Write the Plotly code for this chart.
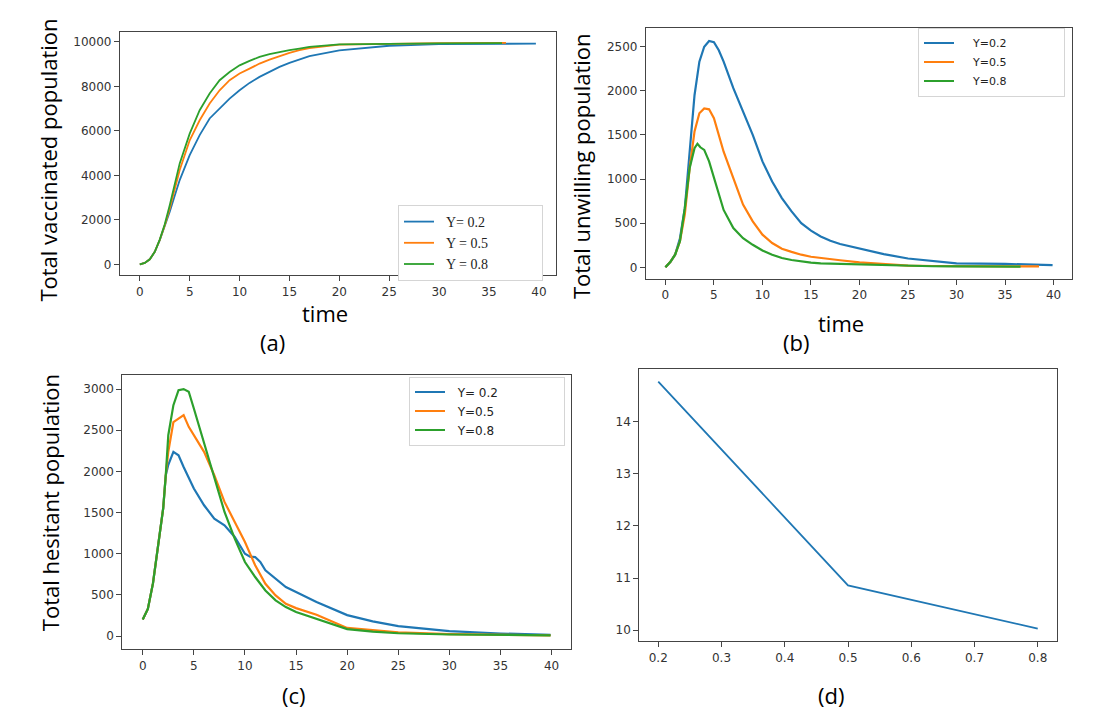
import plotly.graph_objects as go

# ---- dados ----
# (a) populacao vacinada total
t_vac_02 = [0, 0.5, 1, 1.5, 2, 2.5, 3, 3.5, 4, 5, 6, 7, 8, 9, 10, 11, 12, 13, 14, 15, 16, 17, 20, 25, 30, 35, 39.7]
vac_02 = [0, 60, 225, 560, 1090, 1700, 2365, 3080, 3790, 4910, 5810, 6560, 7000, 7455, 7830, 8160, 8430, 8650,
          8880, 9060, 9210, 9360, 9620, 9830, 9900, 9920, 9930]
t_vac_05 = [0, 0.5, 1, 1.5, 2, 2.5, 3, 3.5, 4, 5, 6, 7, 8, 9, 10, 11, 12, 13, 14, 15, 16, 17, 20, 25, 30, 35, 36.7]
vac_05 = [0, 60, 225, 560, 1100, 1750, 2515, 3400, 4240, 5580, 6480, 7230, 7830, 8280, 8580, 8800, 9030, 9210,
          9370, 9510, 9630, 9730, 9880, 9930, 9950, 9960, 9960]
t_vac_08 = [0, 0.5, 1, 1.5, 2, 2.5, 3, 3.5, 4, 5, 6, 7, 8, 9, 10, 11, 12, 13, 14, 15, 16, 17, 20, 25, 30, 36.3]
vac_08 = [0, 60, 225, 560, 1110, 1800, 2660, 3600, 4540, 5880, 6930, 7680, 8280, 8650, 8950, 9150, 9330, 9450,
          9550, 9630, 9700, 9780, 9890, 9930, 9940, 9950]

# (b) populacao relutante total
t_unw_02 = [0, 0.5, 1, 1.5, 2, 2.5, 3, 3.5, 4, 4.5, 5, 5.5, 6, 7, 8, 9, 10, 11, 12, 13, 14, 15, 16, 17, 18,
            20, 22.5, 25, 27.5, 30, 35, 39.9]
unw_02 = [0, 60, 143, 330, 670, 1275, 1950, 2330, 2500, 2565, 2550, 2460, 2330, 2030, 1765, 1500, 1200, 973,
          785, 633, 500, 415, 350, 300, 264, 215, 150, 100, 70, 45, 38, 25]
t_unw_05 = [0, 0.5, 1, 1.5, 2, 2.5, 3, 3.5, 4, 4.5, 5, 5.5, 6, 7, 8, 9, 10, 11, 12, 13, 14, 15, 16, 17, 18,
            20, 22.5, 25, 27.5, 30, 35, 38.5]
unw_05 = [0, 60, 143, 295, 600, 1125, 1540, 1745, 1800, 1790, 1690, 1500, 1310, 1010, 710, 520, 370, 275,
          210, 175, 143, 120, 105, 90, 80, 55, 35, 20, 15, 12, 10, 10]
t_unw_08 = [0, 0.5, 1, 1.5, 2, 2.5, 3, 3.3, 3.6, 4, 4.5, 5, 5.5, 6, 7, 8, 9, 10, 11, 12, 13, 14, 15, 16, 18,
            20, 22.5, 25, 27.5, 30, 35, 36.6]
unw_08 = [0, 60, 143, 295, 670, 1125, 1350, 1400, 1360, 1330, 1200, 1010, 820, 650, 445, 330, 255, 190, 143,
          105, 83, 64, 53, 45, 38, 30, 22, 15, 12, 10, 8, 8]

# (c) populacao hesitante total
t_hes_02 = [0, 0.5, 1, 1.5, 2, 2.25, 2.5, 3, 3.5, 4, 4.5, 5, 6, 7, 8, 9, 10, 10.5, 11, 11.5, 12, 13, 14, 15,
            16, 17, 20, 22.5, 25, 30, 35, 39.9]
hes_02 = [203, 330, 640, 1120, 1550, 1950, 2080, 2238, 2197, 2055, 1913, 1792, 1589, 1427, 1346, 1204, 1000,
          965, 960, 900, 800, 697, 596, 535, 474, 414, 255, 180, 121, 60, 32, 16]
t_hes_05 = [0, 0.5, 1, 1.5, 2, 2.25, 2.5, 3, 3.5, 4, 4.5, 5, 6, 7, 8, 9, 10, 11, 12, 13, 14, 15, 16, 17,
            20, 22.5, 25, 30, 35, 39.9]
hes_05 = [203, 330, 640, 1120, 1550, 1950, 2240, 2600, 2643, 2684, 2542, 2440, 2238, 1954, 1630, 1386, 1143,
          860, 636, 495, 393, 340, 300, 260, 100, 70, 45, 25, 15, 10]
t_hes_08 = [0, 0.5, 1, 1.5, 2, 2.25, 2.5, 3, 3.5, 4, 4.5, 5, 6, 7, 8, 9, 10, 11, 12, 13, 14, 15, 16, 17,
            20, 22.5, 25, 30, 35, 39.9]
hes_08 = [203, 330, 640, 1120, 1550, 1950, 2440, 2805, 2988, 3000, 2968, 2765, 2340, 1913, 1508, 1184, 900,
          718, 555, 434, 353, 292, 251, 211, 85, 55, 35, 20, 12, 10]

# (d)
gamma_vals = [0.2, 0.5, 0.8]
d_vals = [14.77, 10.86, 10.03]

# textos das legendas
leg_a = ["Υ= 0.2", "Υ = 0.5", "Υ = 0.8"]
leg_b = ["Υ=0.2", "Υ=0.5", "Υ=0.8"]
leg_c = ["Υ= 0.2", "Υ=0.5", "Υ=0.8"]

azul = "#1f77b4"
laranja = "#ff7f0e"
verde = "#2ca02c"
cores = [azul, laranja, verde]

# a pagina tem margem de 8px no body, entao a figura fica deslocada
OFF = 8
W, H = 1108, 719


def px(x):
    return (x - OFF) / W


def py(y):
    return 1 - (y - OFF) / H


def nome(txt, antes, depois):
    # espacos fixos para imitar o espacamento da legenda original
    return "\u00a0" * antes + txt + "\u00a0" * depois


fig = go.Figure()

# painel (a)
for t, v, txt, cor in zip([t_vac_02, t_vac_05, t_vac_08], [vac_02, vac_05, vac_08], leg_a, cores):
    fig.add_trace(go.Scatter(x=t, y=v, mode="lines", name=nome(txt, 2, 14),
                             line=dict(color=cor, width=1.8), xaxis="x", yaxis="y", legend="legend"))

# painel (b)
for t, v, txt, cor in zip([t_unw_02, t_unw_05, t_unw_08], [unw_02, unw_05, unw_08], leg_b, cores):
    fig.add_trace(go.Scatter(x=t, y=v, mode="lines", name=nome(txt, 4, 15),
                             line=dict(color=cor, width=2.2), xaxis="x2", yaxis="y2", legend="legend2"))

# painel (c)
for t, v, txt, cor in zip([t_hes_02, t_hes_05, t_hes_08], [hes_02, hes_05, hes_08], leg_c, cores):
    fig.add_trace(go.Scatter(x=t, y=v, mode="lines", name=nome(txt, 2, 16),
                             line=dict(color=cor, width=2.2), xaxis="x3", yaxis="y3", legend="legend3"))

# painel (d)
fig.add_trace(go.Scatter(x=gamma_vals, y=d_vals, mode="lines", showlegend=False,
                         line=dict(color=azul, width=1.8), xaxis="x4", yaxis="y4"))

eixo = dict(showline=True, mirror=True, linecolor="#444444", linewidth=1.2, ticks="outside",
            ticklen=5, tickcolor="#444444", showgrid=False, zeroline=False, tickformat="d",
            tickfont=dict(family="DejaVu Sans", size=12, color="#333333"))

fig.update_layout(
    width=W, height=H,
    margin=dict(l=0, r=0, t=0, b=0),
    paper_bgcolor="white", plot_bgcolor="white",
    xaxis=dict(eixo, domain=[px(120), px(555.7)], range=[-1.985, 41.685], tickvals=list(range(0, 41, 5)), anchor="y"),
    yaxis=dict(eixo, domain=[py(275), py(31.7)], range=[-481, 10463], tickvals=list(range(0, 10001, 2000)), anchor="x"),
    xaxis2=dict(eixo, domain=[px(646), px(1072)], range=[-2.0, 41.9], tickvals=list(range(0, 41, 5)), anchor="y2"),
    yaxis2=dict(eixo, domain=[py(278.7), py(27.7)], range=[-129, 2715], tickvals=list(range(0, 2501, 500)), anchor="x2"),
    xaxis3=dict(eixo, domain=[px(122.3), px(571)], range=[-2.0, 41.9], tickvals=list(range(0, 41, 5)), anchor="y3"),
    yaxis3=dict(eixo, domain=[py(649.3), py(374.7)], range=[-160, 3175], tickvals=list(range(0, 3001, 500)), anchor="x3"),
    xaxis4=dict(eixo, domain=[px(639.3), px(1056.7)], range=[0.17, 0.83], tickformat=".1f",
                tickvals=[0.2, 0.3, 0.4, 0.5, 0.6, 0.7, 0.8], anchor="y4"),
    yaxis4=dict(eixo, domain=[py(641), py(369.3)], range=[9.793, 15.007], tickvals=[10, 11, 12, 13, 14], anchor="x4"),
    legend=dict(x=px(398), y=py(243), xanchor="left", yanchor="middle", bgcolor="white",
                bordercolor="#d5d5d5", borderwidth=1,
                font=dict(family="Liberation Serif", size=14, color="#222222")),
    legend2=dict(x=px(918), y=py(62), xanchor="left", yanchor="middle", bgcolor="white",
                 bordercolor="#d5d5d5", borderwidth=1,
                 font=dict(family="DejaVu Sans", size=11, color="#222222")),
    legend3=dict(x=px(409), y=py(411), xanchor="left", yanchor="middle", bgcolor="white",
                 bordercolor="#d5d5d5", borderwidth=1,
                 font=dict(family="DejaVu Sans", size=12, color="#222222")),
)

fonte_titulo = dict(family="Open Sans", size=22, color="black")
textos = [
    ("Total vaccinated population", 47.6, 160, -90),
    ("Total unwilling population", 580.6, 166.5, -90),
    ("Total hesitant population", 49.7, 502.5, -90),
    ("time", 325, 313, 0),
    ("(a)", 272, 342, 0),
    ("time", 840.5, 323, 0),
    ("(b)", 796, 342, 0),
    ("(c)", 293.7, 695, 0),
    ("(d)", 831, 695, 0),
]
for txt, x, y, ang in textos:
    fig.add_annotation(text=txt, x=px(x), y=py(y), xref="paper", yref="paper", showarrow=False,
                       textangle=ang, xanchor="center", yanchor="middle", font=fonte_titulo)

fig.write_html("out.html")
